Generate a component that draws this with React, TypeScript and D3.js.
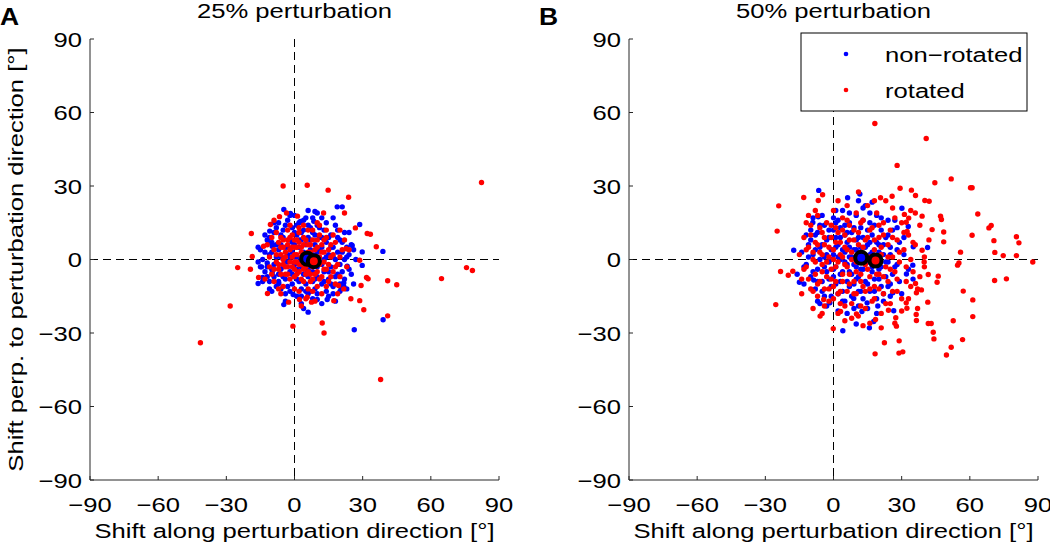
import React from "react";
import * as d3 from "d3";

type P = [number, number];

// Panel A (25% perturbation)
const blueA: P[] = [
  [-12,8],[-10,3],[-9,-2],[-8,6],[-7,-6],[-6,10],[-6,1],[-5,-3],[-5,12],[-4,5],[-4,-8],[-3,2],[-3,-1],[-2,8],[-2,-5],[-1,13],[-1,3],[-1,-10],[0,6],[0,-2],[0,-7],[1,10],[1,1],[1,-4],[2,15],[2,5],[2,-1],[2,-9],[3,8],[3,-3],[3,-12],[4,12],[4,3],[4,-6],[5,17],[5,6],[5,0],[5,-4],[5,-10],[6,9],[6,2],[6,-7],[6,-14],[7,13],[7,4],[7,-2],[8,11],[8,-5],[8,-9],[9,6],[9,1],[9,-12],[10,14],[10,3],[10,-3],[10,-7],[11,9],[11,-1],[12,5],[12,-10],[13,12],[13,0],[13,-5],[14,7],[14,-13],[15,2],[15,-8],[16,10],[16,-3],[17,5],[17,-11],[18,0],[18,14],[19,-6],[20,8],[20,-2],[21,3],[22,-8],[22,11],[23,1],[24,-4],[25,6],[26,-10],[-14,0],[-13,-5],[-11,-9],[-9,11],[-8,-11],[-7,15],[-11,2],[-15,-3],[-12,-7],[-3,16],[0,18],[6,20],[12,17],[-6,-12],[1,-15],[8,-16],[15,-15],[3,-18],[-10,-13],[20,-13],[-16,5],[19,12],[24,11],[27,0],[-4,-14],
  [-13,3],[-12,-3],[-11,9],[-10,-4],[-10,7],[-9,-7],[-8,1],[-8,13],[-7,-9],[-7,4],[-6,-4],[-6,6],[-5,-7],[-5,9],[-4,-1],[-4,14],[-3,-11],[-3,5],[-2,1],[-2,-13],[-1,7],[-1,-6],[0,11],[0,1],[1,-8],[1,14],[2,-5],[2,8],[3,-15],[3,11],[4,-2],[4,16],[5,-13],[6,-4],[6,14],[7,-13],[7,8],[8,2],[8,17],[9,-8],[9,10],[10,-14],[11,4],[11,13],[12,-2],[12,9],[13,-9],[14,1],[14,15],[15,-5],[15,9],[16,-10],[16,5],[17,1],[17,-14],[18,-7],[19,3],[19,9],[20,-10],[21,-5],[21,7],[22,0],[23,5],[23,-12],[24,2],[25,-6],[-14,-9],[-15,4],[-13,10],[-16,-1],[-9,15],[-2,18],[10,19],[17,17],[-11,-12],[-4,-17],[4,-20],[12,-18],[18,-17],[26,4],
  [-4.7,20.4],[-1.8,18.8],[9,19.6],[18.8,21.5],[21,21.5],[8.5,15.6],[2.6,15.5],[-10.9,11.6],[-11.3,6.8],[-14.5,-3],[-16,-9.8],[-14,-7.3],[-6.9,-9.8],[-4.7,-18.4],[-0.6,-14.3],[6,-21.5],[10,-16.3],[14.4,-16.3],[21.7,-9.5],[21.7,-11],[26.3,-28.7],[39,-24.6],[38.9,3.3],[29.8,3.1],[29.8,-2.4],[28.7,14.3],[25.4,5.7],[23.2,-2.7],[20.5,-11.6],[-12,-1.4],[-9.8,5.4],[-9.8,-5.4],
];
const redA: P[] = [
  [-9,4],[-8,-1],[-7,7],[-7,-4],[-6,2],[-6,9],[-5,-2],[-5,5],[-4,-6],[-4,1],[-3,8],[-3,-3],[-2,4],[-2,-8],[-1,1],[-1,10],[0,-4],[0,5],[0,-1],[1,8],[1,-6],[1,2],[2,-2],[2,11],[3,5],[3,-8],[3,1],[4,-4],[4,9],[5,2],[5,-6],[6,6],[6,-1],[6,12],[7,-9],[7,3],[8,-3],[8,8],[9,1],[9,-6],[10,5],[10,-11],[11,-2],[11,10],[12,3],[12,-7],[13,-1],[13,8],[14,-4],[15,4],[15,-9],[16,1],[17,-5],[18,7],[19,-2],[20,-7],[21,4],[10,15],[4,14],[-2,14],[-8,11],[-10,-6],[-9,-9],[-5,-11],[2,-13],[8,-13],[14,12],[17,10],[-11,1],[-12,6],[23,-3],[20,12],[5,-16],[12,-14],[-6,-14],
  [-8,2],[-7,-2],[-6,-6],[-6,5],[-5,0],[-5,8],[-4,-3],[-4,3],[-3,6],[-3,-6],[-2,-1],[-2,9],[-1,-3],[-1,5],[0,2],[0,8],[0,-7],[1,-1],[1,5],[2,-5],[2,7],[3,-2],[3,3],[4,0],[4,6],[4,-9],[5,-3],[5,8],[6,3],[6,-5],[7,0],[7,6],[7,-6],[8,1],[8,-8],[9,4],[9,-2],[10,-5],[10,8],[11,1],[11,-8],[12,6],[13,-4],[13,3],[14,9],[15,-2],[16,-7],[16,6],[17,2],[18,-3],[-9,-4],[-10,9],[2,13],[8,12],[-3,12],[14,-11],[18,-10],[22,8],[-7,-12],[0,-12],[6,-12],[20,1],[-11,-3],[11,14],[24,4],[-13,-8],[19,-14],[3,-19],[9,-17],[-9,16],
  [-5,30],[5.6,30.3],[14.8,28.3],[23.8,25.4],[22,19],[12.8,19],[1.3,17.7],[-3.5,19],[-6.6,17.5],[-10.6,14.3],[-19,10.6],[-13.6,5.4],[-18.6,1.2],[-25,-3.3],[-19.4,-4],[-15.8,-7.3],[-11.9,-13.9],[-28.3,-19],[-41.4,-34],[-2.6,-17.4],[-0.7,-27.2],[2.2,-16.3],[5.6,-15.4],[7.5,-17.4],[12.2,-25.9],[13,-30],[17.3,-16.8],[21.7,-12],[24.8,-16],[28.7,-16.8],[30.5,-20.5],[19.4,-10.6],[29.3,-10.6],[31.7,-7.3],[32.4,-7.9],[36,5.2],[32,10.6],[33.4,10.3],[26.8,12.9],[28.7,-0.3],[22.7,4.4],[41,-8.7],[45,-10.3],[41,-23],[37.9,-49],[64.7,-7.8],[75.7,-3.3],[78.3,-4.5],[82.3,31.4],
];
const meanBlueA: P = [5.6, 0.3];
const meanRedA: P = [8.5, -0.7];

// Panel B (50% perturbation)
const blueB: P[] = [
  [-12,-2],[-11,6],[-10,-7],[-9,2],[-8,10],[-8,-12],[-7,-4],[-6,5],[-6,14],[-5,-9],[-4,1],[-4,-15],[-3,8],[-3,-5],[-2,12],[-2,-1],[-1,4],[-1,-11],[0,17],[0,-7],[0,2],[1,9],[1,-3],[2,-14],[2,6],[3,0],[3,13],[3,-9],[4,-5],[4,20],[5,3],[5,10],[5,-17],[6,-2],[6,7],[7,-11],[7,15],[7,1],[8,-6],[8,11],[9,4],[9,-2],[9,-20],[10,18],[10,8],[10,-8],[11,-13],[11,1],[12,13],[12,-4],[12,5],[13,-16],[13,9],[14,-1],[14,22],[15,6],[15,-10],[16,2],[16,15],[17,-5],[17,10],[18,-13],[18,0],[19,7],[19,18],[20,-8],[20,3],[21,12],[21,-3],[22,-17],[22,6],[23,-1],[24,10],[24,-11],[25,2],[26,-6],[27,16],[28,-2],[29,7],[30,-14],[31,2],[33,-4],[-14,3],[-13,-10],[-10,12],[-5,18],[-3,-19],[6,-22],[13,21],[25,-15],[31,9],[35,-8],[-16,-6],[4,-13],[15,-20],[28,13],[1,15],[-7,-17],[19,-22],[11,24],
  [-11,1],[-10,8],[-9,-5],[-8,4],[-7,-9],[-7,11],[-6,0],[-5,6],[-5,-13],[-4,-3],[-4,14],[-3,2],[-2,-8],[-2,9],[-1,-15],[-1,0],[0,12],[0,-4],[1,5],[1,-10],[2,1],[2,16],[3,-6],[3,9],[4,-17],[4,4],[5,-1],[5,14],[6,-9],[6,11],[7,-5],[7,5],[8,-15],[8,1],[9,-10],[9,13],[10,-3],[10,4],[11,9],[11,-7],[12,-13],[12,1],[13,16],[13,-4],[14,5],[14,-9],[15,-1],[15,12],[16,-13],[16,7],[17,-3],[17,3],[18,-8],[18,14],[19,-16],[19,1],[20,6],[20,-4],[21,17],[21,-11],[22,2],[23,-7],[23,9],[24,-1],[25,5],[25,-10],[26,12],[27,-3],[28,4],[-13,-3],[-12,10],[-9,17],[1,20],[7,19],[16,19],[24,16],[29,-9],[22,-14],[-6,-18],[2,-21],[11,-19],
  [-6.5,28.2],[-6.7,17.4],[-9.1,15.1],[6.2,25.2],[11.6,26.7],[17,23.4],[30.1,20.9],[32.9,13.5],[35.1,5.2],[41.4,4.9],[34.9,-2.3],[32.1,-5.9],[-17.5,3.8],[-15,-9.3],[-8.7,-8.4],[-1.6,-17.7],[4.1,-29.1],[10,-26.3],[15.8,-27.9],[17.7,-25.3],[19.5,-19],[26.5,-20.9],[26.1,-13.6],[14.8,-17.7],[12.5,-21.2],[8.9,-15.9],
];
const redB: P[] = [
  [-15,2],[-14,-8],[-13,9],[-12,-3],[-11,5],[-10,-12],[-10,14],[-9,0],[-8,-6],[-8,7],[-7,-15],[-7,18],[-6,3],[-6,-9],[-5,11],[-5,-2],[-4,-19],[-4,6],[-3,-7],[-3,15],[-2,1],[-2,-12],[-1,9],[-1,-4],[0,20],[0,-16],[0,4],[1,-9],[1,13],[2,-1],[2,-22],[3,7],[3,-13],[4,17],[4,1],[4,-6],[5,10],[5,-19],[6,-3],[6,4],[7,14],[7,-10],[8,-24],[8,0],[9,8],[9,-14],[10,19],[10,-5],[11,2],[11,11],[12,-9],[12,-19],[13,5],[13,16],[14,-2],[14,-13],[15,9],[15,22],[16,-7],[16,1],[17,-17],[17,13],[18,4],[18,-11],[19,-1],[19,19],[20,-6],[20,9],[21,-22],[21,2],[22,15],[22,-14],[23,-3],[24,6],[24,-9],[25,12],[25,-18],[26,1],[26,21],[27,-5],[28,8],[28,-13],[29,-1],[30,15],[30,-21],[31,4],[32,-9],[33,10],[33,-16],[34,0],[35,-5],[36,6],[37,-12],[38,14],[-9,-20],[-11,18],[2,24],[13,-27],[23,24],[27,-26],[36,19],[40,-3],[42,8],
  [-13,-4],[-12,4],[-11,-8],[-10,10],[-9,-13],[-9,3],[-8,-1],[-7,6],[-7,-10],[-6,13],[-5,-5],[-5,2],[-4,-12],[-4,9],[-3,-1],[-2,5],[-2,-17],[-1,14],[-1,-8],[0,0],[0,-11],[1,7],[1,-3],[2,11],[2,-14],[3,2],[3,-18],[4,-9],[4,12],[5,5],[5,-2],[6,-13],[6,16],[7,-6],[7,8],[8,-18],[8,3],[9,-9],[9,12],[10,-1],[10,-14],[11,6],[12,-6],[12,15],[13,-11],[13,1],[14,8],[14,-20],[15,-4],[16,12],[16,-12],[17,-1],[18,8],[18,-16],[19,-6],[20,14],[20,-12],[21,5],[22,-7],[22,10],[23,-18],[24,1],[25,-4],[26,9],[26,-13],[27,17],[28,-8],[29,3],[30,-16],[31,11],[32,-3],[34,-11],[35,7],[-14,-14],[-12,15],[-8,20],[6,22],[18,24],[-5,-22],[5,-25],[16,-26],[34,20],[38,-7],[40,1],[37,-20],
  [18.2,55.5],[40.8,49.4],[28,38.4],[44.6,31.3],[51.8,32.9],[60.3,29.3],[61,29.3],[63.5,18.6],[68.4,12.9],[69.4,13.9],[61,9.9],[70.6,7.7],[80.5,9.3],[81.6,6.8],[74.7,1.6],[80.5,1.6],[87.7,-1],[71,2.9],[76.1,-7.9],[70.9,-8.6],[61.3,-16.5],[57.1,-12.9],[61.3,-23.3],[52.7,-25],[56.8,-32.7],[51.8,-35.8],[49.7,-39],[43.9,-29.7],[44.2,-32.4],[41.7,-26.1],[43,-26.1],[28.9,-33.2],[30.5,-37.7],[28.8,-38.2],[18.3,-38.5],[22.4,-34],[36.4,-22.4],[36.5,-24.9],[45.6,-9.3],[46.1,-6.8],[41.7,-6.1],[54.6,-2.3],[55.2,-1.4],[55.9,3],[48.5,7.2],[48.5,11.2],[47.5,16.3],[47.1,17.7],[43.4,12.2],[40.2,24.1],[42.1,23.8],[36.1,26.1],[34.3,28.3],[29.3,29.1],[25.8,25.8],[20.7,25.2],[11,27.6],[-4.8,26.4],[-13.1,25.3],[-6.7,24.1],[-24.1,21.9],[-24.8,11.6],[-23.3,-4.9],[-17.9,-4.8],[-19.9,-6.4],[-25.4,-18.4],[-5.9,-23.1],[-0.1,-28.2],[3.1,-21.2],[10.1,-22.2],[10.9,-23.1],[18.5,-24.5],[21,-27.9],[24.2,-20.7],[27.4,-23.8],[27.7,-27.2],[32,-17.7],[32.3,-19.9],[36.5,-13.6],[41.5,-17.4],[38.7,-12.4],[36.1,-9.8],[39,3.8],[39.9,-1],[39,17.7],[32,15.2],[33.1,16.9],[32.4,11.4],[31.2,18.4],[-4.3,-16.3],
];
const meanBlueB: P = [12.2, 0.7];
const meanRedB: P = [18.5, -0.4];

const ticks = [-90, -60, -30, 0, 30, 60, 90];
const titles = ["25% perturbation", "50% perturbation"];
const panelLetters = ["A", "B"];
const legendLabels = ["non\u2212rotated", "rotated"];
const xLabel = "Shift along perturbation direction [\u00b0]";
const yLabel = "Shift perp. to perturbation direction [\u00b0]";

const FONT = "'Liberation Sans', Arial, Helvetica, sans-serif";
const FS = 21;
const SX = 1.22;
const W = 409;
const H = 441;
const x = d3.scaleLinear().domain([-90, 90]).range([0, W]);
const y = d3.scaleLinear().domain([-90, 90]).range([H, 0]);
const fmt = (v: number) => (v < 0 ? "\u2212" + Math.abs(v) : String(v));

function T(props: { x: number; y: number; anchor?: string; size?: number; sx?: number; bold?: boolean; dy?: string; rotate?: number; children: React.ReactNode }) {
  const { x: tx, y: ty, anchor = "start", size = FS, sx = SX, bold = false, dy, rotate = 0, children } = props;
  return (
    <g transform={`translate(${tx},${ty}) rotate(${rotate}) scale(${sx},1)`}>
      <text x={0} y={0} dy={dy} textAnchor={anchor} fontFamily={FONT} fontSize={size} fontWeight={bold ? "bold" : "normal"} fill="#000">{children}</text>
    </g>
  );
}

function Panel(props: {
  ox: number; oy: number; blue: P[]; red: P[]; mb: P; mr: P; title: string; letter: string; legend: boolean; ylab: boolean;
}) {
  const { ox, oy, blue, red, mb, mr, title, letter, legend, ylab } = props;
  const axisColor = "#262626";
  return (
    <g>
      <T x={ox - 90} y={25} size={23} sx={1.15} bold>{letter}</T>
      <T x={ox + W / 2} y={17.5} anchor="middle">{title}</T>
      <g transform={`translate(${ox},${oy})`}>
        <line x1={x(0)} x2={x(0)} y1={0} y2={H} stroke="#000" strokeWidth={1} strokeDasharray="8,5" />
        <line x1={0} x2={W} y1={y(0)} y2={y(0)} stroke="#000" strokeWidth={1} strokeDasharray="8,5" />
        {blue.map((p, i) => (
          <circle key={"b" + i} cx={x(p[0])} cy={y(p[1])} r={2.7} fill="#0000ff" />
        ))}
        {red.map((p, i) => (
          <circle key={"r" + i} cx={x(p[0])} cy={y(p[1])} r={2.7} fill="#ff0000" />
        ))}
        <circle cx={x(mb[0])} cy={y(mb[1])} r={6} fill="#0000ff" stroke="#000" strokeWidth={4} />
        <circle cx={x(mr[0])} cy={y(mr[1])} r={6} fill="#ff0000" stroke="#000" strokeWidth={4} />
        <line x1={0} x2={0} y1={0} y2={H} stroke={axisColor} strokeWidth={1} />
        <line x1={0} x2={W} y1={H} y2={H} stroke={axisColor} strokeWidth={1} />
        {ticks.map((t) => (
          <g key={"yt" + t}>
            <line x1={0} x2={4} y1={y(t)} y2={y(t)} stroke={axisColor} />
            <T x={-8} y={y(t)} dy="0.36em" anchor="end">{fmt(t)}</T>
          </g>
        ))}
        {ticks.map((t) => (
          <g key={"xt" + t}>
            <line x1={x(t)} x2={x(t)} y1={H} y2={H - 4} stroke={axisColor} />
            <T x={x(t)} y={H + 32} anchor="middle">{fmt(t)}</T>
          </g>
        ))}
        <T x={W / 2} y={H + 58} anchor="middle">{xLabel}</T>
        {ylab && (
          <T x={-67} y={H / 2} anchor="middle" rotate={-90}>{yLabel}</T>
        )}
        {legend && (
          <g transform={`translate(${172},${-6})`}>
            <rect x={0} y={0} width={226} height={78} fill="#fff" stroke="#000" strokeWidth={1} />
            {legendLabels.map((l, i) => (
              <g key={l}>
                <circle cx={45} cy={21 + i * 36} r={2.3} fill={i === 0 ? "#0000ff" : "#ff0000"} />
                <T x={84} y={21 + i * 36} dy="0.36em">{l}</T>
              </g>
            ))}
          </g>
        )}
      </g>
    </g>
  );
}

export default function App() {
  return (
    <svg width={1050} height={544} style={{ position: "absolute", left: 0, top: 0, background: "#fff" }}>
      <rect width={1050} height={544} fill="#fff" />
      <Panel ox={90} oy={39} blue={blueA} red={redA} mb={meanBlueA} mr={meanRedA} title={titles[0]} letter={panelLetters[0]} legend={false} ylab={true} />
      <Panel ox={629} oy={39} blue={blueB} red={redB} mb={meanBlueB} mr={meanRedB} title={titles[1]} letter={panelLetters[1]} legend={true} ylab={false} />
    </svg>
  );
}
